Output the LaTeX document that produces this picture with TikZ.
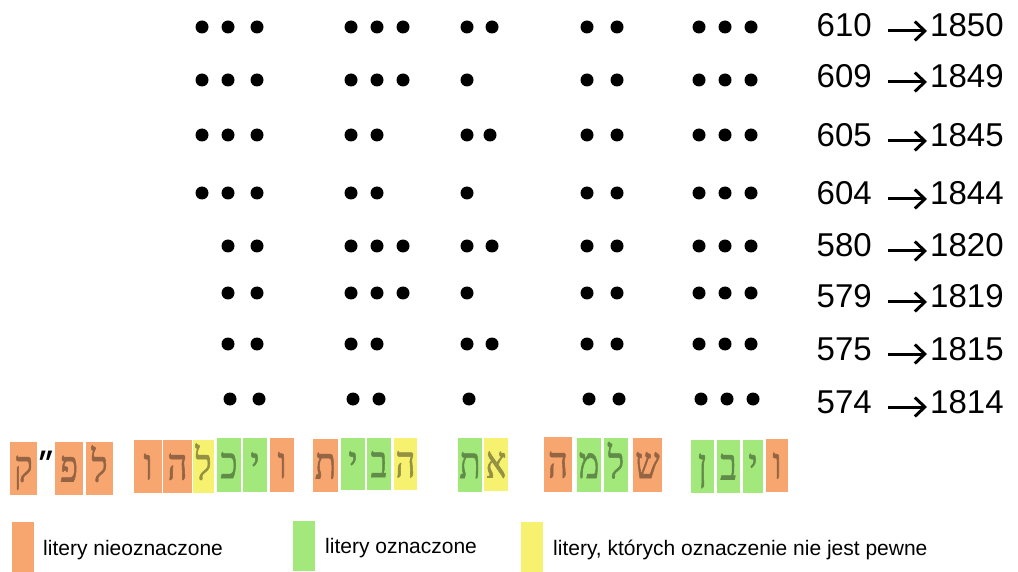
\documentclass[tikz,border=0pt]{standalone}
\usepackage{fontspec}
\setmainfont{Liberation Sans}
\newfontfamily\hebfont[Script=Hebrew, FakeStretch=0.78, FakeBold=1.2]{Liberation Serif}
\newfontfamily\gershfont[Script=Hebrew]{Liberation Sans}
\usetikzlibrary{arrows.meta}
\definecolor{boxorange}{RGB}{247,166,112}
\definecolor{boxgreen}{RGB}{162,232,122}
\definecolor{boxyellow}{RGB}{247,241,112}
\tikzset{
  numtext/.style={font=\fontsize{33}{38}\selectfont, inner sep=0pt, anchor=base west},
  yeararrow/.style={-{Straight Barb[length=10pt, width=19pt]}, line width=3pt,
              shorten <=16pt, shorten >=3pt},
  letterbox/.style={rectangle, fill=#1, text=#1!60!black, inner sep=0pt,
              text height=26pt, text depth=0pt, font=\hebfont\fontsize{44}{50}\selectfont},
  swatch/.style={rectangle, fill=#1, inner sep=0pt, minimum width=22pt,
              minimum height=50pt, anchor=north west},
  legendtext/.style={font=\fontsize{21}{25}\selectfont, inner sep=0pt, anchor=base west},
}
\begin{document}
\begin{tikzpicture}[x=1pt, y=-1pt]
  \useasboundingbox (0,0) rectangle (1018,572);
  % Dot rows
  \foreach \y/\xs in {
      27/{202,228,257,351,377,403,467,492,587,617,699,725,751},
      80/{202,228,257,351,377,403,467,587,617,699,725,751},
      135/{202,228,257,351,377,467,490,587,617,699,725,751},
      193/{202,228,257,351,377,467,587,617,699,725,751},
      246/{228,257,351,377,403,467,492,587,617,699,725,751},
      293/{228,257,351,377,403,467,587,617,699,725,751},
      344/{228,257,351,377,467,492,587,617,699,725,751},
      399/{230,259,353,379,469,589,619,701,727,753}}
    \foreach \x in \xs \fill (\x,\y) circle (6.5);
  % Numbers and years
  \foreach \i/\b/\n/\yr in {1/37/610/1850, 2/88/609/1849, 3/147/605/1845, 4/205/604/1844,
      5/257/580/1820, 6/308/579/1819, 7/360/575/1815, 8/413/574/1814} {
    \node[numtext] (n\i) at (816.5,\b) {\n};
    \node[numtext] (yr\i) at (930,\b) {\yr};
    \draw[yeararrow] ([yshift=6pt]n\i.base east) -- ([yshift=6pt]yr\i.base west);
  }
  % Letter boxes
  \foreach \xa/\xb/\ya/\yb/\col/\ch [count=\k] in {
      10/37/442/495/boxorange/ק, 55/83/442/495/boxorange/פ, 86/113/442/495/boxorange/ל,
      134/162/440/493/boxorange/ו, 163/192/440/493/boxorange/ה, 193/214/440/493/boxyellow/ל,
      217/241/438/492/boxgreen/כ, 243/267/438/492/boxgreen/י, 270/294/438/492/boxorange/ו,
      313/338/439/492/boxorange/ת, 341/365/438/490/boxgreen/י, 367/391/438/490/boxgreen/ב,
      394/417/438/490/boxyellow/ה, 458/482/438/492/boxgreen/ת, 484/508/438/491/boxyellow/א,
      544/572/437/492/boxorange/ה, 577/601/438/492/boxgreen/מ, 604/628/438/492/boxgreen/ל,
      633/662/438/492/boxorange/ש, 691/714/440/493/boxgreen/ן, 717/740/440/493/boxgreen/ב,
      743/763/440/493/boxgreen/י, 766/788/439/492/boxorange/ו}
    \node[letterbox=\col, minimum width={(\xb-\xa)*1pt}, minimum height={(\yb-\ya)*1pt}]
      (h\k) at ({(\xa+\xb)/2},{(\ya+\yb)/2}) {\ch};
  \node[font=\gershfont\bfseries\fontsize{30}{34}\selectfont, inner sep=0pt] (gersh) at (46,463) {״};
  % Legend
  \node[swatch=boxorange] (sw1) at (12,522) {};
  \node[legendtext] (lg1) at (43,555) {litery nieoznaczone};
  \node[swatch=boxgreen] (sw2) at (293,521) {};
  \node[legendtext] (lg2) at (325,553) {litery oznaczone};
  \node[swatch=boxyellow] (sw3) at (521,522) {};
  \node[legendtext] (lg3) at (553,555) {litery, których oznaczenie nie jest pewne};
\end{tikzpicture}
\end{document}
